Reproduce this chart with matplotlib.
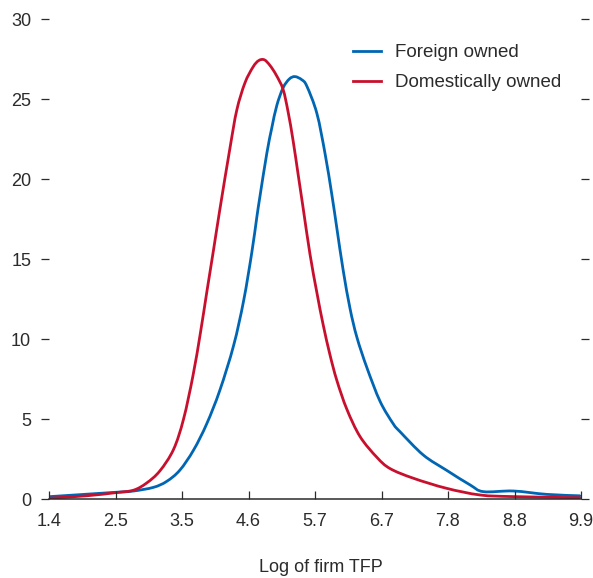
import matplotlib
matplotlib.use("Agg")
import matplotlib.pyplot as plt
from matplotlib.path import Path
from matplotlib.patches import PathPatch
from matplotlib.lines import Line2D
import numpy as np

plt.rcParams['font.family'] = ['Liberation Sans', 'DejaVu Sans']

# Density of log firm TFP by ownership
foreign_x = [1.42, 2.47, 2.75, 3.07, 3.28, 3.49, 3.71, 3.92, 4.13, 4.35, 4.51, 4.64,
             4.72, 4.77, 4.88, 4.96, 5.04, 5.14, 5.24, 5.33, 5.44, 5.52, 5.68, 5.81,
             5.92, 6.00, 6.10, 6.21, 6.32, 6.48, 6.69, 6.90, 7.01, 7.38, 7.75, 8.13,
             8.34, 8.82, 9.35, 9.88]
foreign_y = [0.15, 0.42, 0.50, 0.73, 1.10, 1.80, 3.06, 4.70, 6.80, 9.60, 12.4, 15.4,
             17.6, 18.9, 21.6, 23.2, 24.6, 25.7, 26.25, 26.4, 26.2, 25.8, 24.1, 21.6,
             19.0, 16.9, 14.3, 11.9, 10.1, 8.20, 6.10, 4.70, 4.20, 2.75, 1.80, 0.875,
             0.46, 0.50, 0.29, 0.20]

domestic_x = [1.40, 2.00, 2.47, 2.75, 2.96, 3.17, 3.39, 3.55, 3.70, 3.82, 3.92, 4.03,
              4.13, 4.29, 4.40, 4.53, 4.66, 4.75, 4.84, 4.93, 5.03, 5.14, 5.22, 5.30,
              5.38, 5.46, 5.57, 5.68, 5.78, 5.89, 6.00, 6.16, 6.37, 6.64, 6.85, 7.22,
              7.75, 8.29, 8.82, 9.88]
domestic_y = [0.05, 0.20, 0.40, 0.55, 1.00, 1.75, 3.10, 5.00, 7.70, 10.4, 12.9, 15.6,
              18.1, 21.9, 24.3, 26.0, 27.0, 27.4, 27.45, 27.1, 26.5, 25.6, 24.2, 22.4,
              20.3, 18.2, 15.3, 12.9, 10.9, 9.00, 7.40, 5.60, 3.90, 2.60, 1.90, 1.30,
              0.67, 0.25, 0.15, 0.08]

xtick_labels = ["1.4", "2.5", "3.5", "4.6", "5.7", "6.7", "7.8", "8.8", "9.9"]
ytick_values = [0, 5, 10, 15, 20, 25, 30]

blue = '#0066B3'
red = '#C8102E'
ink = '#2b2b2b'


def smooth_path(xs, ys):
    """Catmull-Rom curve through the points, as cubic Bezier segments."""
    p = np.column_stack([xs, ys]).astype(float)
    ext = np.vstack([p[0], p, p[-1]])
    verts = [p[0]]
    codes = [Path.MOVETO]
    for i in range(len(p) - 1):
        p0, p1, p2, p3 = ext[i], ext[i + 1], ext[i + 2], ext[i + 3]
        c1 = p1 + (p2 - p0) / 6.0
        c2 = p2 - (p3 - p1) / 6.0
        verts += [c1, c2, p2]
        codes += [Path.CURVE4] * 3
    return Path(verts, codes)


fig = plt.figure(figsize=(5.93, 5.78), dpi=100)
ax = fig.add_axes([49/593, 1 - 499/578, (581 - 49)/593, (499 - 19)/578])

for xs, ys, col in [(foreign_x, foreign_y, blue), (domestic_x, domestic_y, red)]:
    ax.add_patch(PathPatch(smooth_path(xs, ys), facecolor='none', edgecolor=col,
                           lw=2.0, joinstyle='round', capstyle='round'))

ax.set_xlim(1.4, 9.9)
ax.set_ylim(0, 30)

xt = np.linspace(1.4, 9.9, len(xtick_labels))
ax.set_xticks(xt)
ax.set_xticklabels(xtick_labels)
ax.set_yticks(ytick_values)

for s in ['top', 'left', 'right']:
    ax.spines[s].set_visible(False)
ax.spines['bottom'].set_color(ink)
ax.spines['bottom'].set_linewidth(1.1)

ax.tick_params(axis='x', direction='in', length=5.5, width=0.9, color=ink,
               labelsize=13, labelcolor=ink, pad=10)
ax.tick_params(axis='y', direction='out', length=5.8, width=0.9, color=ink,
               labelsize=13, labelcolor=ink, pad=7, right=True)

fig.text(321/593, 1 - 572/578, 'Log of firm TFP', fontsize=13, color=ink,
         ha='center', va='baseline')

handles = [Line2D([], [], color=blue, lw=2.0), Line2D([], [], color=red, lw=2.0)]
leg = ax.legend(handles, ['Foreign owned', 'Domestically owned'],
                loc='upper left', bbox_to_anchor=((353 - 49)/532, 1 - (44 - 19)/480),
                frameon=False, fontsize=13.5, handlelength=1.5, handletextpad=0.75,
                labelspacing=0.7, borderaxespad=0.0, borderpad=0.0)
for t in leg.get_texts():
    t.set_color(ink)

fig.savefig('out.png', dpi=100)
